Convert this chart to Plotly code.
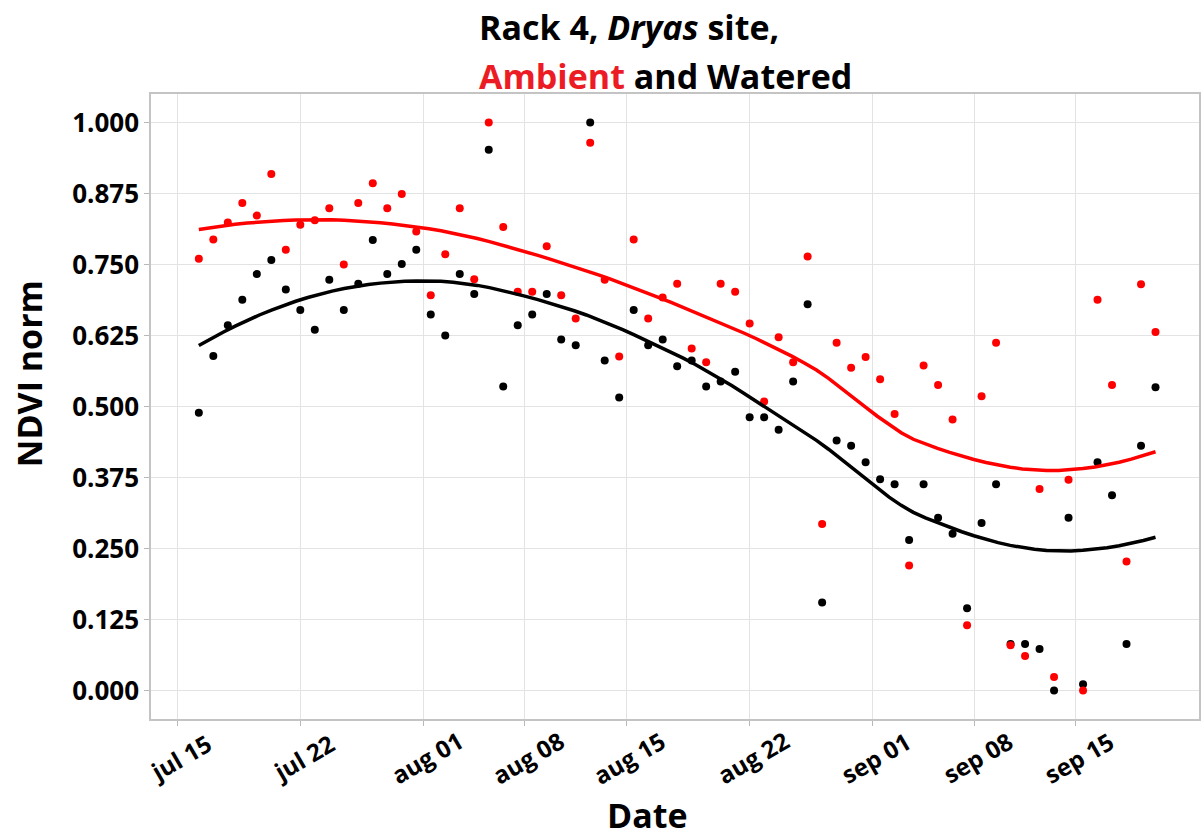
import numpy as np
import plotly.graph_objects as go

# ---------------- data ----------------
day_index = [0, 1, 2, 3, 4, 5, 6, 7, 8, 9, 10, 11, 12, 13, 14, 15, 16, 17, 18, 19,
             20, 21, 22, 23, 24, 25, 26, 27, 28, 29, 30, 31, 32, 33, 34, 35, 36, 37, 38, 39,
             40, 41, 42, 43, 44, 45, 46, 47, 48, 49, 50, 51, 52, 53, 54, 55, 56, 57, 58, 59,
             60, 61, 62, 63, 64, 65, 66]

ambient = [0.760, 0.794, 0.824, 0.858, 0.836, 0.909, 0.776, 0.820, 0.828, 0.849,
           0.750, 0.858, 0.893, 0.849, 0.874, 0.808, 0.696, 0.768, 0.849, 0.724,
           1.000, 0.816, 0.702, 0.702, 0.782, 0.696, 0.655, 0.964, 0.723, 0.588,
           0.794, 0.655, 0.692, 0.716, 0.602, 0.578, 0.716, 0.702, 0.646, 0.509,
           0.622, 0.578, 0.764, 0.293, 0.612, 0.568, 0.587, 0.548, 0.487, 0.220,
           0.572, 0.538, 0.477, 0.115, 0.518, 0.612, 0.080, 0.061, 0.355, 0.024,
           0.371, 0.000, 0.688, 0.538, 0.227, 0.715, 0.631]

watered = [0.489, 0.589, 0.643, 0.688, 0.733, 0.758, 0.706, 0.670, 0.635, 0.723,
           0.670, 0.716, 0.793, 0.733, 0.751, 0.776, 0.662, 0.625, 0.733, 0.698,
           0.952, 0.535, 0.643, 0.662, 0.698, 0.618, 0.608, 1.000, 0.581, 0.516,
           0.670, 0.608, 0.618, 0.571, 0.581, 0.535, 0.544, 0.561, 0.481, 0.481,
           0.459, 0.544, 0.680, 0.155, 0.440, 0.431, 0.402, 0.372, 0.363, 0.265,
           0.363, 0.304, 0.276, 0.145, 0.295, 0.363, 0.082, 0.082, 0.073, 0.000,
           0.304, 0.011, 0.402, 0.344, 0.082, 0.431, 0.534]

tick_days = [-1.5, 7.0, 15.5, 22.5, 29.5, 38.0, 46.5, 53.5, 60.5]
tick_labels = ["jul 15", "jul 22", "aug 01", "aug 08", "aug 15", "aug 22",
               "sep 01", "sep 08", "sep 15"]
y_ticks = [0, 0.125, 0.25, 0.375, 0.5, 0.625, 0.75, 0.875, 1.0]


# ---------------- loess smoother (R-style: degree 2, span 0.75, kd-tree + Hermite) ----------------
def local_fit(x, y, x0, q):
    d = np.abs(x - x0)
    h = np.sort(d)[q - 1]
    w = np.clip(1 - (d / h) ** 3, 0, None) ** 3
    X = np.vstack([np.ones(len(x)), x - x0, (x - x0) ** 2]).T
    XtW = X.T * w
    beta = np.linalg.solve(XtW @ X, XtW @ y)
    return beta[0], beta[1]


def kd_vertices(xsorted, fc):
    verts = set()

    def split(l, u):  # 1-based inclusive
        if u - l + 1 <= fc:
            return
        m = (l + u) // 2
        verts.add(xsorted[m - 1])
        split(l, m)
        split(m + 1, u)

    split(1, len(xsorted))
    return sorted(verts)


def loess(x, y, xs, span=0.75):
    x = np.asarray(x, float)
    y = np.asarray(y, float)
    n = len(x)
    q = int(np.floor(n * span))
    fc = int(np.floor(n * span * 0.2))
    xsorted = np.sort(x)
    lo, hi = xsorted[0], xsorted[-1]
    mu = 0.005 * (hi - lo)
    verts = [lo - mu] + kd_vertices(list(xsorted), fc) + [hi + mu]
    vals = [local_fit(x, y, v, q) for v in verts]
    out = []
    for x0 in xs:
        k = np.searchsorted(verts, x0) - 1
        k = min(max(k, 0), len(verts) - 2)
        v0, v1 = verts[k], verts[k + 1]
        f0, d0 = vals[k]
        f1, d1 = vals[k + 1]
        hh = v1 - v0
        t = (x0 - v0) / hh
        h00 = 2 * t**3 - 3 * t**2 + 1
        h10 = t**3 - 2 * t**2 + t
        h01 = -2 * t**3 + 3 * t**2
        h11 = t**3 - t**2
        out.append(h00 * f0 + h10 * hh * d0 + h01 * f1 + h11 * hh * d1)
    return np.array(out)


xs = np.linspace(min(day_index), max(day_index), 80)
amb_fit = loess(day_index, ambient, xs)
wat_fit = loess(day_index, watered, xs)

FONT = "Open Sans"
RED = "#ff0000"

fig = go.Figure()
fig.add_trace(go.Scatter(x=day_index, y=watered, mode="markers",
                         marker=dict(color="black", size=8), showlegend=False))
fig.add_trace(go.Scatter(x=day_index, y=ambient, mode="markers",
                         marker=dict(color=RED, size=8), showlegend=False))
fig.add_trace(go.Scatter(x=xs, y=amb_fit, mode="lines",
                         line=dict(color=RED, width=3.5), showlegend=False))
fig.add_trace(go.Scatter(x=xs, y=wat_fit, mode="lines",
                         line=dict(color="black", width=3.5), showlegend=False))

axis_common = dict(
    showgrid=True, gridcolor="#e3e3e3", gridwidth=1,
    showline=True, linecolor="#c4c4c4", linewidth=1.5, mirror=True,
    ticks="outside", ticklen=5, tickcolor="#b8b8b8", tickwidth=1,
    zeroline=False,
)

annotations = [
    dict(text="<b>Rack 4, <i>Dryas</i> site,</b>", xref="paper", yref="paper",
         x=(478 - 151) / 1050, y=1 + (94 - 27) / 625, xanchor="left", yanchor="middle",
         showarrow=False, font=dict(family=FONT, size=34, color="black")),
    dict(text="<b><span style='color:#ec1c24'>Ambient</span> and Watered</b>",
         xref="paper", yref="paper",
         x=(478 - 151) / 1050, y=1 + (94 - 76) / 625, xanchor="left", yanchor="middle",
         showarrow=False, font=dict(family=FONT, size=34, color="black")),
    dict(text="<b>NDVI norm</b>", xref="paper", yref="paper",
         x=-(151 - 29) / 1050, y=(719 - 374) / 625, xanchor="center", yanchor="middle",
         textangle=-90, showarrow=False,
         font=dict(family=FONT, size=34, color="black")),
    dict(text="<b>Date</b>", xref="paper", yref="paper",
         x=(648 - 151) / 1050, y=-(815 - 719) / 625, xanchor="center", yanchor="middle",
         showarrow=False, font=dict(family=FONT, size=34, color="black")),
]
# rotated date labels, centred under their ticks
for tv, tl in zip(tick_days, tick_labels):
    annotations.append(dict(
        text="<b>" + tl + "</b>", x=tv, xref="x", yref="paper",
        y=-(757 - 719) / 625, xanchor="center", yanchor="middle",
        xshift=3, textangle=-30, showarrow=False,
        font=dict(family=FONT, size=24, color="black")))

fig.update_layout(
    width=1201, height=839,
    margin=dict(l=151, r=0, t=94, b=120),
    paper_bgcolor="white", plot_bgcolor="white",
    font=dict(family=FONT, color="black"),
    xaxis=dict(range=[-3.3, 69.0], tickvals=tick_days, ticktext=tick_labels,
               showticklabels=False, **axis_common),
    yaxis=dict(range=[-0.05, 1.05], tickvals=y_ticks, tickformat=".3f",
               tickfont=dict(family=FONT, size=26, color="black", weight="bold"),
               **axis_common),
    annotations=annotations,
)

fig.write_html("out.html")
